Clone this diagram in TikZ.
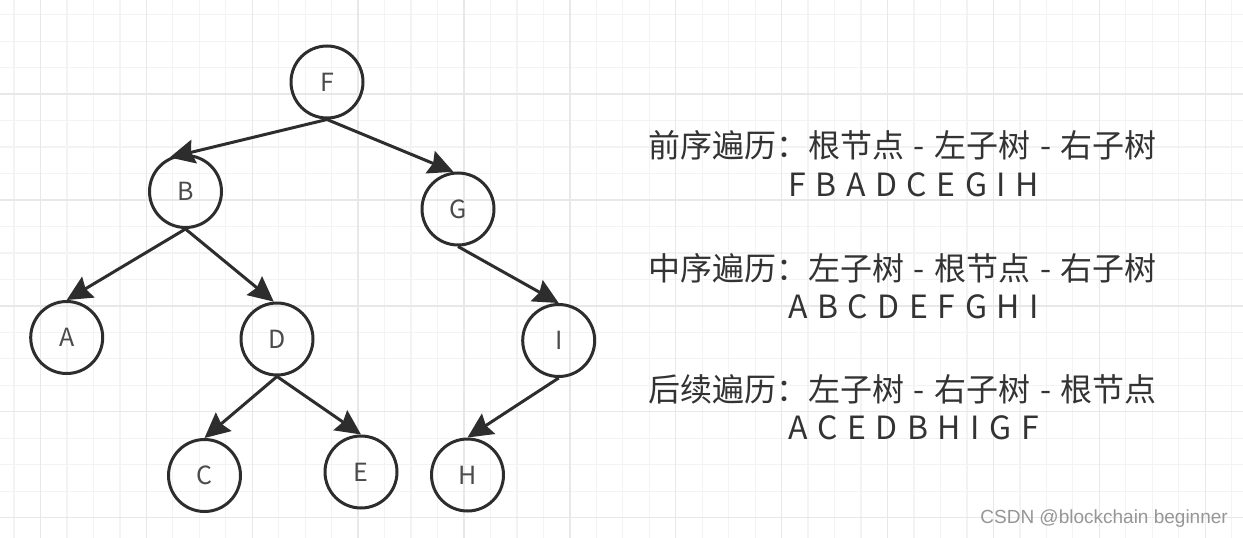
\documentclass[tikz,border=0pt]{standalone}
\usepackage{fontspec}
\setmainfont{Noto Sans CJK SC}
\newfontfamily\descfont[WordSpace=1.34]{Noto Sans CJK SC}
\newfontfamily\wmfont{Liberation Sans}
\usetikzlibrary{arrows.meta}
\definecolor{gridminor}{RGB}{243,243,243}
\definecolor{gridmajor}{RGB}{232,232,232}
\definecolor{ink}{RGB}{45,45,45}
\definecolor{labelink}{RGB}{75,75,75}
\definecolor{textink}{RGB}{51,51,51}
\definecolor{wmink}{RGB}{150,150,150}
\tikzset{
  treenode/.style={circle, draw=ink, line width=3pt, minimum size=72pt, inner sep=0pt,
    text=labelink, font=\fontsize{25}{30}\selectfont},
  treeedge/.style={draw=ink, line width=3pt, -{Stealth[length=25pt,width=24pt,inset=3pt]}},
  desc/.style={anchor=base west, inner sep=0pt, text=textink, font=\descfont\fontsize{32}{38}\selectfont},
  minorline/.style={draw=gridminor, line width=1.3pt},
  majorline/.style={draw=gridmajor, line width=1.3pt}
}
\begin{document}
\begin{tikzpicture}[x=1pt,y=-1pt]
\useasboundingbox (0,0) rectangle (1243,538);
\fill[white] (0,0) rectangle (1243,538);
% grid
\foreach \k in {0,...,46} {
  \pgfmathsetmacro\xx{14+26.47*\k}
  \draw[minorline] (\xx,0) -- (\xx,538);
}
\foreach \k in {0,...,19} {
  \pgfmathsetmacro\yy{14.7+26.47*\k}
  \draw[minorline] (0,\yy) -- (1243,\yy);
}
\foreach \k in {1,5,...,45} {
  \pgfmathsetmacro\xx{14+26.47*\k}
  \draw[majorline] (\xx,0) -- (\xx,538);
}
\foreach \k in {3,7,...,19} {
  \pgfmathsetmacro\yy{14.7+26.47*\k}
  \draw[majorline] (0,\yy) -- (1243,\yy);
}
% nodes
\node[treenode] (F) at (327,82) {F};
\node[treenode] (B) at (185.5,191.5) {B};
\node[treenode] (G) at (458,209) {G};
\node[treenode] (A) at (66.7,337.5) {A};
\node[treenode] (D) at (277,339) {D};
\node[treenode] (I) at (558.7,340.5) {I};
\node[treenode] (C) at (204.5,475.5) {C};
\node[treenode] (E) at (361,472) {E};
\node[treenode] (H) at (467.5,475) {H};
% edges
\draw[treeedge] (F.south) -- (B.115);
\draw[treeedge] (F.south) -- (G.97);
\draw[treeedge] (B.south) -- (A.north);
\draw[treeedge] (B.south) -- (D.95);
\draw[treeedge] (G.south) -- (I.north);
\draw[treeedge] (D.south) -- (C.north);
\draw[treeedge] (D.south) -- (E.north);
\draw[treeedge] (I.south) -- (H.north);
% descriptions
\node[desc] (t1) at (648,157) {前序遍历：根节点 - 左子树 - 右子树};
\node[desc] (s1) at (788,196.4) {F B A D C E G I H};
\node[desc] (t2) at (648,280) {中序遍历：左子树 - 根节点 - 右子树};
\node[desc] (s2) at (788,318.5) {A B C D E F G H I};
\node[desc] (t3) at (648,401) {后续遍历：左子树 - 右子树 - 根节点};
\node[desc] (s3) at (788,439) {A C E D B H I G F};
% watermark
\node[anchor=base east, inner sep=0pt, text=wmink, font=\wmfont\fontsize{19}{22}\selectfont] (wm) at (1228,523) {CSDN @blockchain beginner};
\end{tikzpicture}
\end{document}
